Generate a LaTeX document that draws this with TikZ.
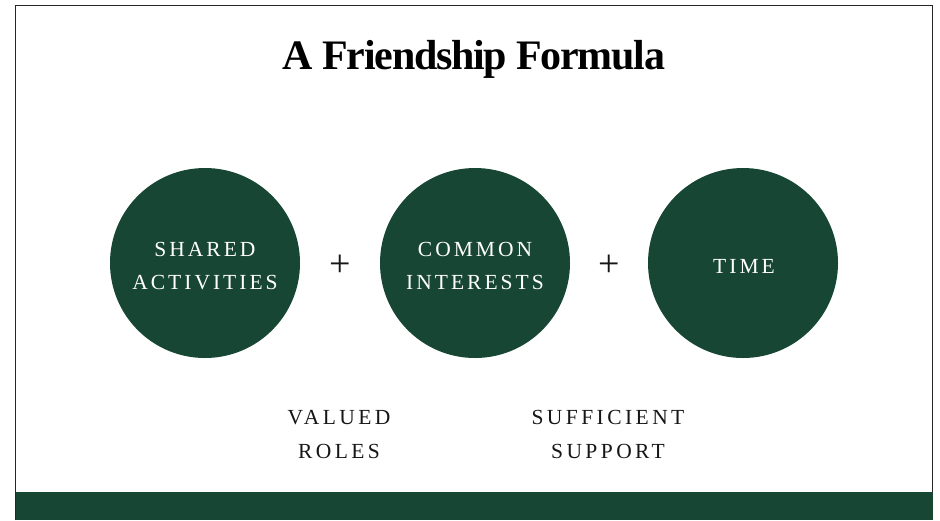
\documentclass[tikz,border=0pt]{standalone}
\usepackage{fontspec}
\setmainfont{Liberation Serif}
\definecolor{fgreen}{RGB}{24,70,52}
\definecolor{ink}{RGB}{22,22,22}
\tikzset{
  circ/.style={circle, fill=fgreen, minimum size=190pt, inner sep=0pt},
  ctext/.style={text=white, align=center,
    font=\fontsize{21.5}{33}\selectfont\addfontfeature{LetterSpace=14}},
  lab/.style={text=ink, align=center, font=\fontsize{21.5}{34}\selectfont\addfontfeature{LetterSpace=16}},
  plus/.style={text=ink, font=\fontsize{38}{38}\selectfont},
}
\begin{document}
\begin{tikzpicture}[x=1pt,y=-1pt]
\useasboundingbox (0,0) rectangle (940,520);
\fill[white] (0,0) rectangle (940,520);
\draw[line width=1.6pt, black!85] (15.5,520) -- (15.5,5.5) -- (932.5,5.5) -- (932.5,520);
\fill[fgreen] (15.5,492) rectangle (932.5,520);
\node[text=black, font=\fontsize{42}{42}\selectfont\bfseries\addfontfeature{LetterSpace=-3}] (title) at (474,59) {A Friendship Formula};
\node[circ] (c1) at (205,263) {};
\node[circ] (c2) at (475,263) {};
\node[circ] (c3) at (743,263) {};
\node[ctext] (t1) at (205,266) {SHARED\\ACTIVITIES};
\node[ctext] (t2) at (475,266) {COMMON\\INTERESTS};
\node[ctext] (t3) at (744,266) {TIME};
\node[plus] (p1) at (340,266) {+};
\node[plus] (p2) at (609,266) {+};
\node[lab] (l1) at (339,434) {VALUED\\ROLES};
\node[lab] (l2) at (608,434) {SUFFICIENT\\SUPPORT};
\end{tikzpicture}
\end{document}
